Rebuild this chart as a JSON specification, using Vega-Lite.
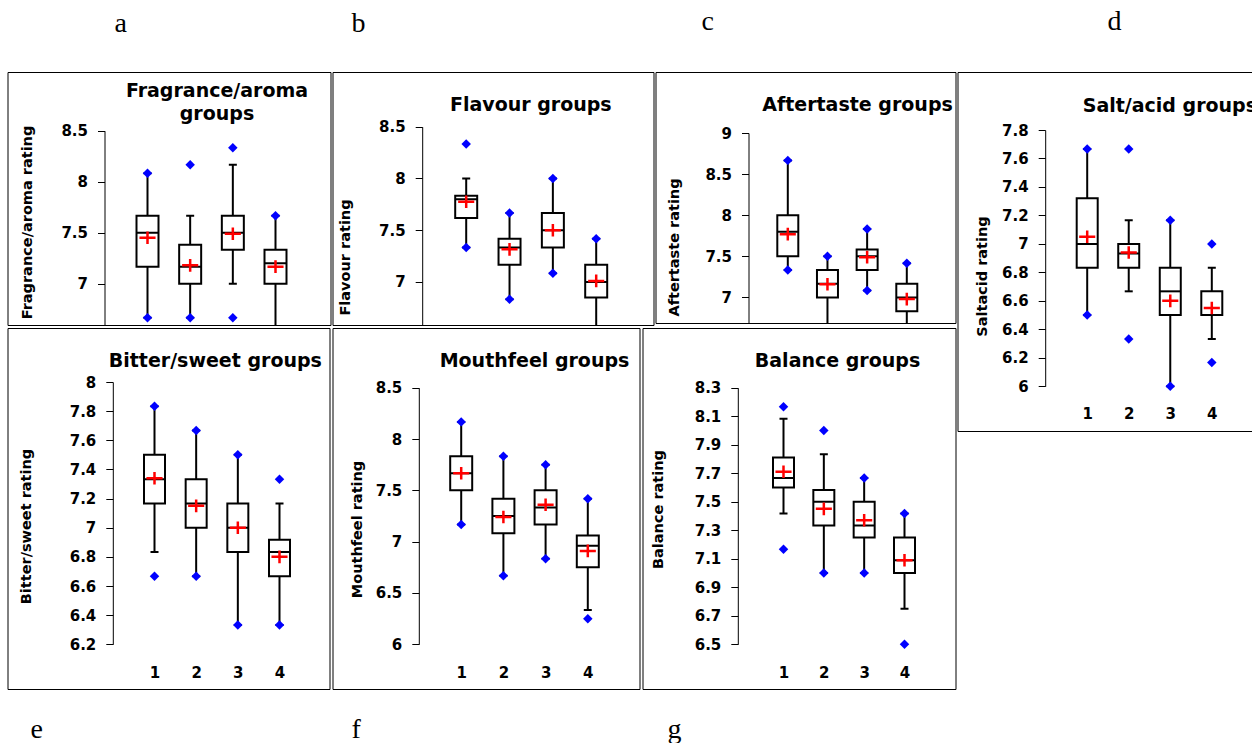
{
"$schema": "https://vega.github.io/schema/vega-lite/v6.json",
"padding": {"left": 6.5, "top": 7, "right": -7, "bottom": -2},
"background": "white",
"config": {
  "font": "DejaVu Sans",
  "view": {"stroke": "black", "strokeWidth": 1},
  "axis": {"grid": false, "domainColor": "black", "tickColor": "black", "labelColor": "black", "titleColor": "black", "labelFont": "DejaVu Sans", "labelFontSize": 15, "labelFontWeight": "bold", "titleFont": "DejaVu Sans", "labelFlush": false, "labelOverlap": false},
  "axisX": {"ticks": false, "domain": false, "tickSize": 0, "labelPadding": 0, "labelBaseline": "alphabetic", "titleFontSize": 19, "titleFontWeight": "bold", "titleBaseline": "alphabetic", "titleAngle": 0, "titleAlign": "center"},
  "axisY": {"tickSize": 7, "labelPadding": 10, "titleAngle": -90, "titleAlign": "center", "titleBaseline": "middle", "titleFontSize": 14.5, "titleFontWeight": "bold", "domainWidth": 1, "labelOverlap": false},
  "title": {"font": "Liberation Serif", "fontSize": 28, "fontWeight": "normal", "anchor": "start", "baseline": "alphabetic", "color": "black", "frame": "group"}
},
"datasets": {
  "A": [
    {"g":1,"wlo":6.667,"whi":8.083,"q1":7.167,"med":7.5,"q3":7.667,"mean":7.45},
    {"g":2,"wlo":6.667,"whi":7.667,"q1":7.0,"med":7.167,"q3":7.383,"mean":7.18},
    {"g":3,"wlo":7.0,"whi":8.167,"q1":7.333,"med":7.5,"q3":7.667,"mean":7.49},
    {"g":4,"wlo":6.5,"whi":7.667,"q1":7.0,"med":7.2,"q3":7.333,"mean":7.167}
  ],
  "OA": [{"g":1,"v":8.083},{"g":1,"v":6.667},{"g":2,"v":8.167},{"g":2,"v":6.667},{"g":3,"v":8.333},{"g":3,"v":6.667},{"g":4,"v":7.667}],
  "B": [
    {"g":1,"wlo":7.333,"whi":8.0,"q1":7.617,"med":7.8,"q3":7.833,"mean":7.775},
    {"g":2,"wlo":6.833,"whi":7.667,"q1":7.167,"med":7.333,"q3":7.417,"mean":7.315},
    {"g":3,"wlo":7.083,"whi":8.0,"q1":7.333,"med":7.5,"q3":7.667,"mean":7.5},
    {"g":4,"wlo":6.5,"whi":7.417,"q1":6.85,"med":7.0,"q3":7.167,"mean":7.01}
  ],
  "OB": [{"g":1,"v":8.333},{"g":1,"v":7.333},{"g":2,"v":7.667},{"g":2,"v":6.833},{"g":3,"v":8.0},{"g":3,"v":7.083},{"g":4,"v":7.417}],
  "C": [
    {"g":1,"wlo":7.333,"whi":8.667,"q1":7.5,"med":7.8,"q3":8.0,"mean":7.77},
    {"g":2,"wlo":6.5,"whi":7.5,"q1":7.0,"med":7.167,"q3":7.333,"mean":7.16},
    {"g":3,"wlo":7.083,"whi":7.833,"q1":7.333,"med":7.5,"q3":7.583,"mean":7.49},
    {"g":4,"wlo":6.5,"whi":7.417,"q1":6.833,"med":7.0,"q3":7.167,"mean":6.98}
  ],
  "OC": [{"g":1,"v":8.667},{"g":1,"v":7.333},{"g":2,"v":7.5},{"g":3,"v":7.833},{"g":3,"v":7.083},{"g":4,"v":7.417}],
  "D": [
    {"g":1,"wlo":6.5,"whi":7.667,"q1":6.833,"med":7.0,"q3":7.32,"mean":7.05},
    {"g":2,"wlo":6.667,"whi":7.167,"q1":6.833,"med":6.933,"q3":7.0,"mean":6.94},
    {"g":3,"wlo":6.0,"whi":7.167,"q1":6.5,"med":6.667,"q3":6.833,"mean":6.6},
    {"g":4,"wlo":6.333,"whi":6.833,"q1":6.5,"med":6.5,"q3":6.667,"mean":6.55}
  ],
  "OD": [{"g":1,"v":7.667},{"g":1,"v":6.5},{"g":2,"v":7.667},{"g":2,"v":6.333},{"g":3,"v":7.167},{"g":3,"v":6.0},{"g":4,"v":7.0},{"g":4,"v":6.167}],
  "E": [
    {"g":1,"wlo":6.833,"whi":7.833,"q1":7.167,"med":7.333,"q3":7.5,"mean":7.34},
    {"g":2,"wlo":6.667,"whi":7.667,"q1":7.0,"med":7.167,"q3":7.333,"mean":7.15},
    {"g":3,"wlo":6.333,"whi":7.5,"q1":6.833,"med":7.0,"q3":7.167,"mean":7.0},
    {"g":4,"wlo":6.333,"whi":7.167,"q1":6.667,"med":6.833,"q3":6.917,"mean":6.8}
  ],
  "OE": [{"g":1,"v":7.833},{"g":1,"v":6.667},{"g":2,"v":7.667},{"g":2,"v":6.667},{"g":3,"v":7.5},{"g":3,"v":6.333},{"g":4,"v":7.333},{"g":4,"v":6.333}],
  "F": [
    {"g":1,"wlo":7.167,"whi":8.167,"q1":7.5,"med":7.667,"q3":7.833,"mean":7.667},
    {"g":2,"wlo":6.667,"whi":7.833,"q1":7.083,"med":7.25,"q3":7.417,"mean":7.24},
    {"g":3,"wlo":6.833,"whi":7.75,"q1":7.167,"med":7.333,"q3":7.5,"mean":7.36},
    {"g":4,"wlo":6.333,"whi":7.417,"q1":6.75,"med":6.96,"q3":7.06,"mean":6.91}
  ],
  "OF": [{"g":1,"v":8.167},{"g":1,"v":7.167},{"g":2,"v":7.833},{"g":2,"v":6.667},{"g":3,"v":7.75},{"g":3,"v":6.833},{"g":4,"v":7.417},{"g":4,"v":6.25}],
  "G": [
    {"g":1,"wlo":7.417,"whi":8.083,"q1":7.6,"med":7.667,"q3":7.81,"mean":7.71},
    {"g":2,"wlo":7.0,"whi":7.833,"q1":7.333,"med":7.5,"q3":7.583,"mean":7.45},
    {"g":3,"wlo":7.0,"whi":7.667,"q1":7.25,"med":7.333,"q3":7.5,"mean":7.37},
    {"g":4,"wlo":6.75,"whi":7.417,"q1":7.0,"med":7.09,"q3":7.25,"mean":7.09}
  ],
  "OG": [{"g":1,"v":8.167},{"g":1,"v":7.167},{"g":2,"v":8.0},{"g":2,"v":7.0},{"g":3,"v":7.667},{"g":3,"v":7.0},{"g":4,"v":7.417},{"g":4,"v":6.5}]
},
"spacing": 0,
"hconcat": [
 {"spacing": 1, "vconcat": [
  {"spacing": 0, "hconcat": [
   {"width": 323, "height": 253,
    "title": {"text": "a", "dx": 107, "offset": 34},
    "encoding": {"x": {"field": "g", "type": "quantitative", "scale": {"domain": [1,4], "range": [140,268], "padding": 0, "nice": false, "zero": false},
      "axis": {"orient": "top", "labels": false, "title": ["Fragrance/aroma","groups"], "titleX": 209, "titleY": 24, "titleLineHeight": 23}}},
    "layer": [
     {"data": {"name": "A"}, "mark": {"type": "rule", "strokeWidth": 2, "color": "black", "clip": true},
      "encoding": {"y": {"field": "wlo", "type": "quantitative", "scale": {"domain": [6.595,8.5], "range": [253,58.7], "nice": false, "zero": false},
        "axis": {"orient": "left", "offset": -97, "values": [7,7.5,8,8.5], "format": "~g", "labelOverlap": false, "title": "Fragrance/aroma rating", "titleX": -77, "titleY": 150}}, "y2": {"field": "whi"}}},
     {"data": {"name": "A"}, "mark": {"type": "tick", "orient": "horizontal", "size": 8, "thickness": 2, "color": "black", "opacity": 1, "clip": true},
      "encoding": {"y": {"field": "wlo", "type": "quantitative", "scale": {"domain": [6.595,8.5], "range": [253,58.7], "nice": false, "zero": false}}}},
     {"data": {"name": "A"}, "mark": {"type": "tick", "orient": "horizontal", "size": 8, "thickness": 2, "color": "black", "opacity": 1, "clip": true},
      "encoding": {"y": {"field": "whi", "type": "quantitative", "scale": {"domain": [6.595,8.5], "range": [253,58.7], "nice": false, "zero": false}}}},
     {"data": {"name": "A"}, "mark": {"type": "bar", "orient": "vertical", "width": 22, "fill": "white", "stroke": "black", "strokeWidth": 2, "clip": true},
      "encoding": {"y": {"field": "q1", "type": "quantitative", "scale": {"domain": [6.595,8.5], "range": [253,58.7], "nice": false, "zero": false}}, "y2": {"field": "q3"}}},
     {"data": {"name": "A"}, "mark": {"type": "tick", "orient": "horizontal", "size": 22, "thickness": 2, "color": "black", "opacity": 1, "clip": true},
      "encoding": {"y": {"field": "med", "type": "quantitative", "scale": {"domain": [6.595,8.5], "range": [253,58.7], "nice": false, "zero": false}}}},
     {"data": {"name": "A"}, "mark": {"type": "point", "shape": "M-1.15,0L1.15,0M0,-0.9L0,0.9", "filled": false, "color": "#ff0000", "strokeWidth": 2.5, "size": 196, "opacity": 1, "clip": true},
      "encoding": {"y": {"field": "mean", "type": "quantitative", "scale": {"domain": [6.595,8.5], "range": [253,58.7], "nice": false, "zero": false}}}},
     {"data": {"name": "OA"}, "mark": {"type": "point", "shape": "diamond", "filled": true, "color": "#0000ff", "size": 90, "opacity": 1, "clip": true},
      "encoding": {"y": {"field": "v", "type": "quantitative", "scale": {"domain": [6.595,8.5], "range": [253,58.7], "nice": false, "zero": false}}}}
    ]},
   {"width": 321, "height": 253,
    "title": {"text": "b", "dx": 19, "offset": 34},
    "encoding": {"x": {"field": "g", "type": "quantitative", "scale": {"domain": [1,4], "range": [133.7,263.7], "padding": 0, "nice": false, "zero": false},
      "axis": {"orient": "top", "labels": false, "title": "Flavour groups", "titleX": 197.8, "titleY": 38.7}}},
    "layer": [
     {"data": {"name": "B"}, "mark": {"type": "rule", "strokeWidth": 2, "color": "black", "clip": true},
      "encoding": {"y": {"field": "wlo", "type": "quantitative", "scale": {"domain": [6.584,8.5], "range": [253,54.7], "nice": false, "zero": false},
        "axis": {"orient": "left", "offset": -89.7, "values": [7,7.5,8,8.5], "format": "~g", "labelOverlap": false, "title": "Flavour rating", "titleX": -76.7, "titleY": 185}}, "y2": {"field": "whi"}}},
     {"data": {"name": "B"}, "mark": {"type": "tick", "orient": "horizontal", "size": 8, "thickness": 2, "color": "black", "opacity": 1, "clip": true},
      "encoding": {"y": {"field": "wlo", "type": "quantitative", "scale": {"domain": [6.584,8.5], "range": [253,54.7], "nice": false, "zero": false}}}},
     {"data": {"name": "B"}, "mark": {"type": "tick", "orient": "horizontal", "size": 8, "thickness": 2, "color": "black", "opacity": 1, "clip": true},
      "encoding": {"y": {"field": "whi", "type": "quantitative", "scale": {"domain": [6.584,8.5], "range": [253,54.7], "nice": false, "zero": false}}}},
     {"data": {"name": "B"}, "mark": {"type": "bar", "orient": "vertical", "width": 22, "fill": "white", "stroke": "black", "strokeWidth": 2, "clip": true},
      "encoding": {"y": {"field": "q1", "type": "quantitative", "scale": {"domain": [6.584,8.5], "range": [253,54.7], "nice": false, "zero": false}}, "y2": {"field": "q3"}}},
     {"data": {"name": "B"}, "mark": {"type": "tick", "orient": "horizontal", "size": 22, "thickness": 2, "color": "black", "opacity": 1, "clip": true},
      "encoding": {"y": {"field": "med", "type": "quantitative", "scale": {"domain": [6.584,8.5], "range": [253,54.7], "nice": false, "zero": false}}}},
     {"data": {"name": "B"}, "mark": {"type": "point", "shape": "M-1.15,0L1.15,0M0,-0.9L0,0.9", "filled": false, "color": "#ff0000", "strokeWidth": 2.5, "size": 196, "opacity": 1, "clip": true},
      "encoding": {"y": {"field": "mean", "type": "quantitative", "scale": {"domain": [6.584,8.5], "range": [253,54.7], "nice": false, "zero": false}}}},
     {"data": {"name": "OB"}, "mark": {"type": "point", "shape": "diamond", "filled": true, "color": "#0000ff", "size": 90, "opacity": 1, "clip": true},
      "encoding": {"y": {"field": "v", "type": "quantitative", "scale": {"domain": [6.584,8.5], "range": [253,54.7], "nice": false, "zero": false}}}}
    ]},
   {"width": 300, "height": 251,
    "title": {"text": "c", "dx": 46, "offset": 36},
    "encoding": {"x": {"field": "g", "type": "quantitative", "scale": {"domain": [1,4], "range": [132.3,251.3], "padding": 0, "nice": false, "zero": false},
      "axis": {"orient": "top", "labels": false, "title": "Aftertaste groups", "titleX": 201.5, "titleY": 38.7}}},
    "layer": [
     {"data": {"name": "C"}, "mark": {"type": "rule", "strokeWidth": 2, "color": "black", "clip": true},
      "encoding": {"y": {"field": "wlo", "type": "quantitative", "scale": {"domain": [6.689,9], "range": [251,61], "nice": false, "zero": false},
        "axis": {"orient": "left", "offset": -93, "values": [7,7.5,8,8.5,9], "format": "~g", "labelOverlap": false, "title": "Aftertaste rating", "titleX": -74, "titleY": 175}}, "y2": {"field": "whi"}}},
     {"data": {"name": "C"}, "mark": {"type": "tick", "orient": "horizontal", "size": 8, "thickness": 2, "color": "black", "opacity": 1, "clip": true},
      "encoding": {"y": {"field": "wlo", "type": "quantitative", "scale": {"domain": [6.689,9], "range": [251,61], "nice": false, "zero": false}}}},
     {"data": {"name": "C"}, "mark": {"type": "tick", "orient": "horizontal", "size": 8, "thickness": 2, "color": "black", "opacity": 1, "clip": true},
      "encoding": {"y": {"field": "whi", "type": "quantitative", "scale": {"domain": [6.689,9], "range": [251,61], "nice": false, "zero": false}}}},
     {"data": {"name": "C"}, "mark": {"type": "bar", "orient": "vertical", "width": 21, "fill": "white", "stroke": "black", "strokeWidth": 2, "clip": true},
      "encoding": {"y": {"field": "q1", "type": "quantitative", "scale": {"domain": [6.689,9], "range": [251,61], "nice": false, "zero": false}}, "y2": {"field": "q3"}}},
     {"data": {"name": "C"}, "mark": {"type": "tick", "orient": "horizontal", "size": 21, "thickness": 2, "color": "black", "opacity": 1, "clip": true},
      "encoding": {"y": {"field": "med", "type": "quantitative", "scale": {"domain": [6.689,9], "range": [251,61], "nice": false, "zero": false}}}},
     {"data": {"name": "C"}, "mark": {"type": "point", "shape": "M-1.15,0L1.15,0M0,-0.9L0,0.9", "filled": false, "color": "#ff0000", "strokeWidth": 2.5, "size": 196, "opacity": 1, "clip": true},
      "encoding": {"y": {"field": "mean", "type": "quantitative", "scale": {"domain": [6.689,9], "range": [251,61], "nice": false, "zero": false}}}},
     {"data": {"name": "OC"}, "mark": {"type": "point", "shape": "diamond", "filled": true, "color": "#0000ff", "size": 90, "opacity": 1, "clip": true},
      "encoding": {"y": {"field": "v", "type": "quantitative", "scale": {"domain": [6.689,9], "range": [251,61], "nice": false, "zero": false}}}}
    ]}
  ]},
  {"spacing": 1, "hconcat": [
   {"width": 322, "height": 361,
    "title": {"text": "e", "orient": "bottom", "dx": 23, "offset": 27},
    "encoding": {"x": {"field": "g", "type": "quantitative", "scale": {"domain": [1,4], "range": [147,272], "padding": 0, "nice": false, "zero": false},
      "axis": {"orient": "bottom", "offset": -12, "values": [1,2,3,4], "format": "d", "title": "Bitter/sweet groups", "titleX": 207.3, "titleY": -311}}},
    "layer": [
     {"data": {"name": "E"}, "mark": {"type": "rule", "strokeWidth": 2, "color": "black", "clip": true},
      "encoding": {"y": {"field": "wlo", "type": "quantitative", "scale": {"domain": [6.2,8], "range": [316.3,54], "nice": false, "zero": false},
        "axis": {"orient": "left", "offset": -105.3, "values": [6.2,6.4,6.6,6.8,7,7.2,7.4,7.6,7.8,8], "format": "~g", "labelOverlap": false, "title": "Bitter/sweet rating", "titleX": -86.6, "titleY": 198}}, "y2": {"field": "whi"}}},
     {"data": {"name": "E"}, "mark": {"type": "tick", "orient": "horizontal", "size": 8, "thickness": 2, "color": "black", "opacity": 1, "clip": true},
      "encoding": {"y": {"field": "wlo", "type": "quantitative", "scale": {"domain": [6.2,8], "range": [316.3,54], "nice": false, "zero": false}}}},
     {"data": {"name": "E"}, "mark": {"type": "tick", "orient": "horizontal", "size": 8, "thickness": 2, "color": "black", "opacity": 1, "clip": true},
      "encoding": {"y": {"field": "whi", "type": "quantitative", "scale": {"domain": [6.2,8], "range": [316.3,54], "nice": false, "zero": false}}}},
     {"data": {"name": "E"}, "mark": {"type": "bar", "orient": "vertical", "width": 21, "fill": "white", "stroke": "black", "strokeWidth": 2, "clip": true},
      "encoding": {"y": {"field": "q1", "type": "quantitative", "scale": {"domain": [6.2,8], "range": [316.3,54], "nice": false, "zero": false}}, "y2": {"field": "q3"}}},
     {"data": {"name": "E"}, "mark": {"type": "tick", "orient": "horizontal", "size": 21, "thickness": 2, "color": "black", "opacity": 1, "clip": true},
      "encoding": {"y": {"field": "med", "type": "quantitative", "scale": {"domain": [6.2,8], "range": [316.3,54], "nice": false, "zero": false}}}},
     {"data": {"name": "E"}, "mark": {"type": "point", "shape": "M-1.15,0L1.15,0M0,-0.9L0,0.9", "filled": false, "color": "#ff0000", "strokeWidth": 2.5, "size": 196, "opacity": 1, "clip": true},
      "encoding": {"y": {"field": "mean", "type": "quantitative", "scale": {"domain": [6.2,8], "range": [316.3,54], "nice": false, "zero": false}}}},
     {"data": {"name": "OE"}, "mark": {"type": "point", "shape": "diamond", "filled": true, "color": "#0000ff", "size": 90, "opacity": 1, "clip": true},
      "encoding": {"y": {"field": "v", "type": "quantitative", "scale": {"domain": [6.2,8], "range": [316.3,54], "nice": false, "zero": false}}}}
    ]},
   {"width": 307, "height": 361,
    "title": {"text": "f", "orient": "bottom", "dx": 19, "offset": 27},
    "encoding": {"x": {"field": "g", "type": "quantitative", "scale": {"domain": [1,4], "range": [128.7,255.3], "padding": 0, "nice": false, "zero": false},
      "axis": {"orient": "bottom", "offset": -12, "values": [1,2,3,4], "format": "d", "title": "Mouthfeel groups", "titleX": 201.5, "titleY": -310.3}}},
    "layer": [
     {"data": {"name": "F"}, "mark": {"type": "rule", "strokeWidth": 2, "color": "black", "clip": true},
      "encoding": {"y": {"field": "wlo", "type": "quantitative", "scale": {"domain": [6,8.5], "range": [316.3,59.7], "nice": false, "zero": false},
        "axis": {"orient": "left", "offset": -86.3, "values": [6,6.5,7,7.5,8,8.5], "format": "~g", "labelOverlap": false, "title": "Mouthfeel rating", "titleX": -61.3, "titleY": 201}}, "y2": {"field": "whi"}}},
     {"data": {"name": "F"}, "mark": {"type": "tick", "orient": "horizontal", "size": 8, "thickness": 2, "color": "black", "opacity": 1, "clip": true},
      "encoding": {"y": {"field": "wlo", "type": "quantitative", "scale": {"domain": [6,8.5], "range": [316.3,59.7], "nice": false, "zero": false}}}},
     {"data": {"name": "F"}, "mark": {"type": "tick", "orient": "horizontal", "size": 8, "thickness": 2, "color": "black", "opacity": 1, "clip": true},
      "encoding": {"y": {"field": "whi", "type": "quantitative", "scale": {"domain": [6,8.5], "range": [316.3,59.7], "nice": false, "zero": false}}}},
     {"data": {"name": "F"}, "mark": {"type": "bar", "orient": "vertical", "width": 22, "fill": "white", "stroke": "black", "strokeWidth": 2, "clip": true},
      "encoding": {"y": {"field": "q1", "type": "quantitative", "scale": {"domain": [6,8.5], "range": [316.3,59.7], "nice": false, "zero": false}}, "y2": {"field": "q3"}}},
     {"data": {"name": "F"}, "mark": {"type": "tick", "orient": "horizontal", "size": 22, "thickness": 2, "color": "black", "opacity": 1, "clip": true},
      "encoding": {"y": {"field": "med", "type": "quantitative", "scale": {"domain": [6,8.5], "range": [316.3,59.7], "nice": false, "zero": false}}}},
     {"data": {"name": "F"}, "mark": {"type": "point", "shape": "M-1.15,0L1.15,0M0,-0.9L0,0.9", "filled": false, "color": "#ff0000", "strokeWidth": 2.5, "size": 196, "opacity": 1, "clip": true},
      "encoding": {"y": {"field": "mean", "type": "quantitative", "scale": {"domain": [6,8.5], "range": [316.3,59.7], "nice": false, "zero": false}}}},
     {"data": {"name": "OF"}, "mark": {"type": "point", "shape": "diamond", "filled": true, "color": "#0000ff", "size": 90, "opacity": 1, "clip": true},
      "encoding": {"y": {"field": "v", "type": "quantitative", "scale": {"domain": [6,8.5], "range": [316.3,59.7], "nice": false, "zero": false}}}}
    ]},
   {"width": 313, "height": 361,
    "title": {"text": "g", "orient": "bottom", "dx": 25, "offset": 27},
    "encoding": {"x": {"field": "g", "type": "quantitative", "scale": {"domain": [1,4], "range": [141,262], "padding": 0, "nice": false, "zero": false},
      "axis": {"orient": "bottom", "offset": -12, "values": [1,2,3,4], "format": "d", "title": "Balance groups", "titleX": 194.5, "titleY": -311}}},
    "layer": [
     {"data": {"name": "G"}, "mark": {"type": "rule", "strokeWidth": 2, "color": "black", "clip": true},
      "encoding": {"y": {"field": "wlo", "type": "quantitative", "scale": {"domain": [6.5,8.3], "range": [316.3,59.7], "nice": false, "zero": false},
        "axis": {"orient": "left", "offset": -95.3, "values": [6.5,6.7,6.9,7.1,7.3,7.5,7.7,7.9,8.1,8.3], "format": "~g", "labelOverlap": false, "title": "Balance rating", "titleX": -79.3, "titleY": 181}}, "y2": {"field": "whi"}}},
     {"data": {"name": "G"}, "mark": {"type": "tick", "orient": "horizontal", "size": 8, "thickness": 2, "color": "black", "opacity": 1, "clip": true},
      "encoding": {"y": {"field": "wlo", "type": "quantitative", "scale": {"domain": [6.5,8.3], "range": [316.3,59.7], "nice": false, "zero": false}}}},
     {"data": {"name": "G"}, "mark": {"type": "tick", "orient": "horizontal", "size": 8, "thickness": 2, "color": "black", "opacity": 1, "clip": true},
      "encoding": {"y": {"field": "whi", "type": "quantitative", "scale": {"domain": [6.5,8.3], "range": [316.3,59.7], "nice": false, "zero": false}}}},
     {"data": {"name": "G"}, "mark": {"type": "bar", "orient": "vertical", "width": 21, "fill": "white", "stroke": "black", "strokeWidth": 2, "clip": true},
      "encoding": {"y": {"field": "q1", "type": "quantitative", "scale": {"domain": [6.5,8.3], "range": [316.3,59.7], "nice": false, "zero": false}}, "y2": {"field": "q3"}}},
     {"data": {"name": "G"}, "mark": {"type": "tick", "orient": "horizontal", "size": 21, "thickness": 2, "color": "black", "opacity": 1, "clip": true},
      "encoding": {"y": {"field": "med", "type": "quantitative", "scale": {"domain": [6.5,8.3], "range": [316.3,59.7], "nice": false, "zero": false}}}},
     {"data": {"name": "G"}, "mark": {"type": "point", "shape": "M-1.15,0L1.15,0M0,-0.9L0,0.9", "filled": false, "color": "#ff0000", "strokeWidth": 2.5, "size": 196, "opacity": 1, "clip": true},
      "encoding": {"y": {"field": "mean", "type": "quantitative", "scale": {"domain": [6.5,8.3], "range": [316.3,59.7], "nice": false, "zero": false}}}},
     {"data": {"name": "OG"}, "mark": {"type": "point", "shape": "diamond", "filled": true, "color": "#0000ff", "size": 90, "opacity": 1, "clip": true},
      "encoding": {"y": {"field": "v", "type": "quantitative", "scale": {"domain": [6.5,8.3], "range": [316.3,59.7], "nice": false, "zero": false}}}}
    ]}
  ]}
 ]},
 {"width": 300, "height": 359,
  "title": {"text": "d", "dx": 150, "offset": 36},
  "encoding": {"x": {"field": "g", "type": "quantitative", "scale": {"domain": [1,4], "range": [129.7,254.3], "padding": 0, "nice": false, "zero": false},
    "axis": {"orient": "bottom", "offset": -12.3, "values": [1,2,3,4], "format": "d", "title": "Salt/acid groups", "titleX": 124.7, "titleAlign": "left", "titleY": -307.4}}},
  "layer": [
   {"data": {"name": "D"}, "mark": {"type": "rule", "strokeWidth": 2, "color": "black", "clip": true},
    "encoding": {"y": {"field": "wlo", "type": "quantitative", "scale": {"domain": [6,7.8], "range": [314.3,58], "nice": false, "zero": false},
      "axis": {"orient": "left", "offset": -87.7, "values": [6,6.2,6.4,6.6,6.8,7,7.2,7.4,7.6,7.8], "format": "~g", "labelOverlap": false, "labelBound": false, "title": "Saltacid rating", "titleX": -62.4, "titleY": 204}}, "y2": {"field": "whi"}}},
   {"data": {"name": "D"}, "mark": {"type": "tick", "orient": "horizontal", "size": 8, "thickness": 2, "color": "black", "opacity": 1, "clip": true},
    "encoding": {"y": {"field": "wlo", "type": "quantitative", "scale": {"domain": [6,7.8], "range": [314.3,58], "nice": false, "zero": false},
      "axis": {"orient": "left", "offset": -87.7, "values": [6,6.2,6.4,6.6,6.8,7,7.2,7.4,7.6,7.8], "format": "~g", "labelOverlap": false, "labelBound": false, "title": "Saltacid rating", "titleX": -62.4, "titleY": 204}}}},
   {"data": {"name": "D"}, "mark": {"type": "tick", "orient": "horizontal", "size": 8, "thickness": 2, "color": "black", "opacity": 1, "clip": true},
    "encoding": {"y": {"field": "whi", "type": "quantitative", "scale": {"domain": [6,7.8], "range": [314.3,58], "nice": false, "zero": false},
      "axis": {"orient": "left", "offset": -87.7, "values": [6,6.2,6.4,6.6,6.8,7,7.2,7.4,7.6,7.8], "format": "~g", "labelOverlap": false, "labelBound": false, "title": "Saltacid rating", "titleX": -62.4, "titleY": 204}}}},
   {"data": {"name": "D"}, "mark": {"type": "bar", "orient": "vertical", "width": 21, "fill": "white", "stroke": "black", "strokeWidth": 2, "clip": true},
    "encoding": {"y": {"field": "q1", "type": "quantitative", "scale": {"domain": [6,7.8], "range": [314.3,58], "nice": false, "zero": false},
      "axis": {"orient": "left", "offset": -87.7, "values": [6,6.2,6.4,6.6,6.8,7,7.2,7.4,7.6,7.8], "format": "~g", "labelOverlap": false, "labelBound": false, "title": "Saltacid rating", "titleX": -62.4, "titleY": 204}}, "y2": {"field": "q3"}}},
   {"data": {"name": "D"}, "mark": {"type": "tick", "orient": "horizontal", "size": 21, "thickness": 2, "color": "black", "opacity": 1, "clip": true},
    "encoding": {"y": {"field": "med", "type": "quantitative", "scale": {"domain": [6,7.8], "range": [314.3,58], "nice": false, "zero": false},
      "axis": {"orient": "left", "offset": -87.7, "values": [6,6.2,6.4,6.6,6.8,7,7.2,7.4,7.6,7.8], "format": "~g", "labelOverlap": false, "labelBound": false, "title": "Saltacid rating", "titleX": -62.4, "titleY": 204}}}},
   {"data": {"name": "D"}, "mark": {"type": "point", "shape": "M-1.15,0L1.15,0M0,-0.9L0,0.9", "filled": false, "color": "#ff0000", "strokeWidth": 2.5, "size": 196, "opacity": 1, "clip": true},
    "encoding": {"y": {"field": "mean", "type": "quantitative", "scale": {"domain": [6,7.8], "range": [314.3,58], "nice": false, "zero": false},
      "axis": {"orient": "left", "offset": -87.7, "values": [6,6.2,6.4,6.6,6.8,7,7.2,7.4,7.6,7.8], "format": "~g", "labelOverlap": false, "labelBound": false, "title": "Saltacid rating", "titleX": -62.4, "titleY": 204}}}},
   {"data": {"name": "OD"}, "mark": {"type": "point", "shape": "diamond", "filled": true, "color": "#0000ff", "size": 90, "opacity": 1, "clip": true},
    "encoding": {"y": {"field": "v", "type": "quantitative", "scale": {"domain": [6,7.8], "range": [314.3,58], "nice": false, "zero": false},
      "axis": {"orient": "left", "offset": -87.7, "values": [6,6.2,6.4,6.6,6.8,7,7.2,7.4,7.6,7.8], "format": "~g", "labelOverlap": false, "labelBound": false, "title": "Saltacid rating", "titleX": -62.4, "titleY": 204}}}}
  ]}
]
}
